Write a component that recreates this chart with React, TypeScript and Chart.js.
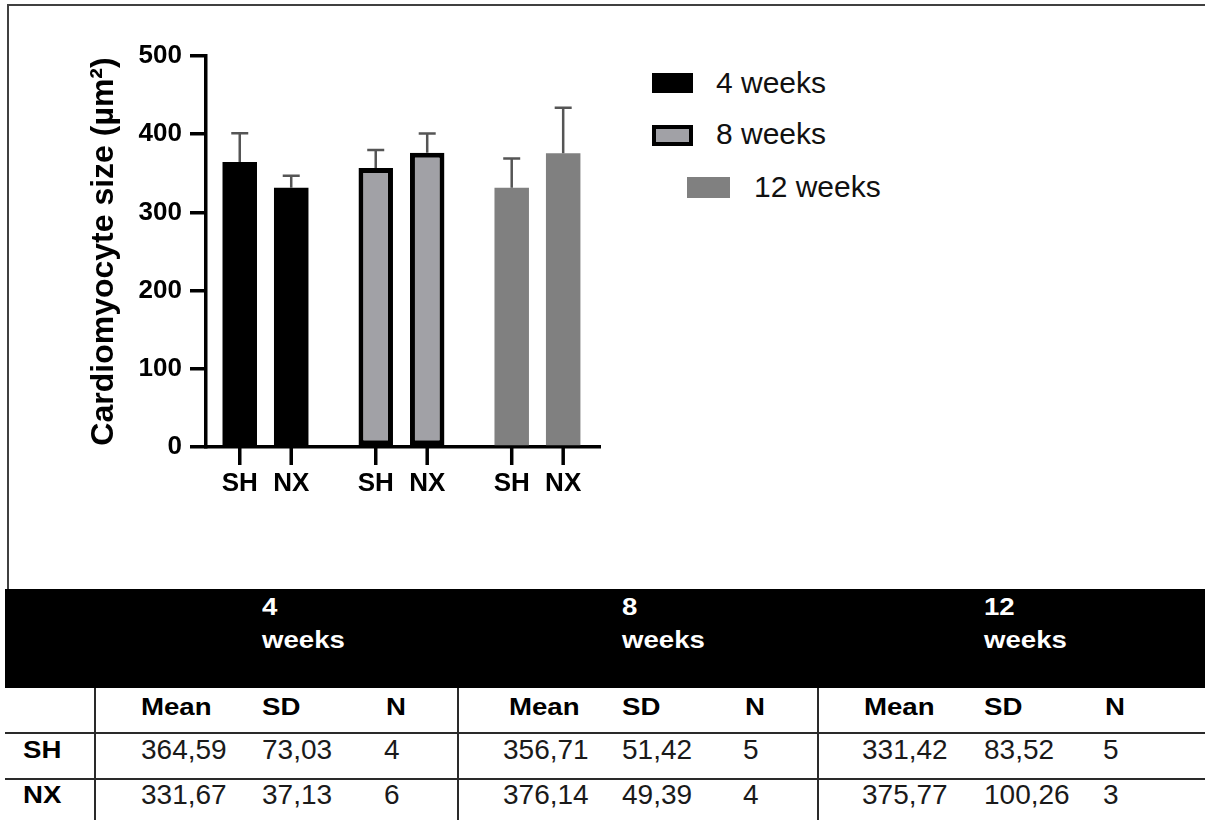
import React, { useEffect, useRef } from 'react';
import { Chart, registerables } from 'chart.js';

Chart.register(...registerables);

// ---------- data ----------
const groups = ['4 weeks', '8 weeks', '12 weeks'];
const seriesNames = ['SH', 'NX'];
const shMean = [364.59, 356.71, 331.42];
const nxMean = [331.67, 376.14, 375.77];
const shSD = [73.03, 51.42, 83.52];
const nxSD = [37.13, 49.39, 100.26];
const shN = [4, 5, 5];
const nxN = [6, 4, 3];
// error bars (SEM)
const shErr = [36.5, 23.0, 37.4];
const nxErr = [15.2, 24.7, 57.9];
const yTicks = [0, 100, 200, 300, 400, 500];
const yTitle = 'Cardiomyocyte size (µm²)';
const tableCols = ['Mean', 'SD', 'N'];

// ---------- styles ----------
const FONT = "'Liberation Sans', Arial, Helvetica, sans-serif";
const groupFill = ['#000000', '#a1a1a6', '#808080'];
const groupBorder = ['#000000', '#000000', '#808080'];
const groupBorderWidth = [0, 5, 0];

const means = [shMean, nxMean];
const errs = [shErr, nxErr];

const barExtras = {
  id: 'barExtras',
  afterDatasetsDraw(chart: any) {
    const { ctx, chartArea, scales } = chart;
    const y = scales.y;
    ctx.save();
    chart.data.datasets.forEach((_ds: any, di: number) => {
      const meta = chart.getDatasetMeta(di);
      meta.data.forEach((el: any, j: number) => {
        const top = y.getPixelForValue(means[di][j] + errs[di][j]);
        ctx.strokeStyle = '#555555';
        ctx.lineWidth = 2.5;
        ctx.beginPath();
        ctx.moveTo(el.x, el.y);
        ctx.lineTo(el.x, top);
        ctx.moveTo(el.x - 8.5, top);
        ctx.lineTo(el.x + 8.5, top);
        ctx.stroke();
        // category tick under the bar
        ctx.strokeStyle = '#000';
        ctx.lineWidth = 3.5;
        ctx.beginPath();
        ctx.moveTo(el.x, chartArea.bottom);
        ctx.lineTo(el.x, chartArea.bottom + 18);
        ctx.stroke();
        ctx.fillStyle = '#000';
        ctx.font = `bold 26px ${FONT}`;
        ctx.textAlign = 'center';
        ctx.textBaseline = 'middle';
        ctx.fillText(seriesNames[di], el.x, chartArea.bottom + 37);
      });
    });
    ctx.restore();
  },
};

function T(props: any) {
  const { x, base, size, bold, color = '#000', sx = 1, children } = props;
  return (
    <span
      style={{
        position: 'absolute',
        left: x,
        top: base - 0.8465 * size,
        fontSize: size,
        lineHeight: `${size}px`,
        fontWeight: bold ? 700 : 400,
        color,
        whiteSpace: 'nowrap',
        fontFamily: FONT,
        transform: sx !== 1 ? `scaleX(${sx})` : undefined,
        transformOrigin: 'left top',
      }}
    >
      {children}
    </span>
  );
}

const fmt = (v: number) => v.toFixed(2).replace('.', ',');

export default function App() {
  const ref = useRef<HTMLCanvasElement | null>(null);

  useEffect(() => {
    document.body.style.margin = '0';
    document.body.style.overflow = 'hidden';
    const canvas = ref.current;
    if (!canvas) return;
    const chart = new Chart(canvas, {
      type: 'bar',
      data: {
        datasets: seriesNames.map((name, di) => ({
          label: name,
          data: groups.map((_g, j) => ({ x: j, y: means[di][j] })),
          backgroundColor: groupFill,
          borderColor: groupBorder,
          borderWidth: groupBorderWidth,
          borderSkipped: false,
          categoryPercentage: 0.757,
          barPercentage: 0.67,
        })),
      } as any,
      options: {
        responsive: false,
        animation: false,
        events: [],
        layout: { padding: { left: 0, top: 56, right: 20, bottom: 0 } },
        plugins: { legend: { display: false }, tooltip: { enabled: false } },
        scales: {
          x: {
            type: 'linear',
            min: -0.4375,
            max: 2.46,
            offset: false,
            afterBuildTicks: (s: any) => {
              s.ticks = groups.map((_g, i) => ({ value: i }));
            },
            afterFit: (s: any) => {
              s.height = 73;
            },
            ticks: { display: false },
            grid: { display: false },
            border: { display: true, color: '#000', width: 3.5 },
          },
          y: {
            min: 0,
            max: 500,
            afterBuildTicks: (s: any) => {
              s.ticks = yTicks.map((v) => ({ value: v }));
            },
            afterFit: (s: any) => {
              s.width = 206;
            },
            ticks: {
              color: '#000',
              font: { family: FONT, size: 26, weight: 'bold' },
              padding: 8,
            },
            grid: {
              drawOnChartArea: false,
              drawTicks: true,
              tickLength: 16,
              tickWidth: 3.5,
              tickColor: '#000',
              lineWidth: 3.5,
              color: '#000',
            },
            border: { display: true, color: '#000', width: 3.5 },
            title: {
              display: true,
              text: yTitle,
              color: '#000',
              font: { family: FONT, size: 32, weight: 'bold' },
              padding: { top: 85, bottom: 0 },
            },
          },
        },
      } as any,
      plugins: [barExtras],
    });
    return () => chart.destroy();
  }, []);

  // legend layout
  const legendLayout = [
    { bx: 652, by: 73, bw: 41, bh: 20, tx: 716, base: 93 },
    { bx: 652, by: 125, bw: 41, bh: 21, tx: 716, base: 144 },
    { bx: 687, by: 177, bw: 43, bh: 21, tx: 754, base: 197 },
  ];

  // table layout
  const meanHeadX = [141, 509, 864];
  const meanX = [141, 503, 862];
  const sdX = [262, 622, 984];
  const nX = [384, 743, 1103];
  const rows = [
    { label: seriesNames[0], mean: shMean, sd: shSD, n: shN, base: 760 },
    { label: seriesNames[1], mean: nxMean, sd: nxSD, n: nxN, base: 805 },
  ];
  const lineColor = '#2a2a2a';
  const frameColor = '#404040';

  return (
    <div
      style={{
        position: 'absolute',
        left: 0,
        top: 0,
        width: 1205,
        height: 820,
        background: '#fff',
        overflow: 'hidden',
        fontFamily: FONT,
      }}
    >
      {/* outer frame: top and left lines only */}
      <div style={{ position: 'absolute', left: 7, top: 4, width: 1198, height: 2, background: frameColor }} />
      <div style={{ position: 'absolute', left: 7, top: 4, width: 2, height: 586, background: frameColor }} />
      <canvas
        ref={ref}
        width={620}
        height={520}
        style={{ position: 'absolute', left: 0, top: 0, display: 'block' }}
      />
      {/* legend */}
      {groups.map((g, i) => {
        const L = legendLayout[i];
        return (
          <React.Fragment key={g}>
            <div
              style={{
                position: 'absolute',
                left: L.bx,
                top: L.by,
                width: L.bw,
                height: L.bh,
                background: groupFill[i],
                border: groupBorderWidth[i] ? `4px solid ${groupBorder[i]}` : 'none',
                boxSizing: 'border-box',
              }}
            />
            <T x={L.tx} base={L.base} size={30} color="#111">
              {g}
            </T>
          </React.Fragment>
        );
      })}

      {/* table */}
      <div style={{ position: 'absolute', left: 5, top: 589, width: 1200, height: 99, background: '#000' }} />
      {groups.map((g, i) => {
        const [num, unit] = g.split(' ');
        return (
          <React.Fragment key={'h' + g}>
            <T x={sdX[i]} base={615} size={24} bold color="#fff" sx={1.15}>
              {num}
            </T>
            <T x={sdX[i]} base={648} size={24} bold color="#fff" sx={1.15}>
              {unit}
            </T>
          </React.Fragment>
        );
      })}
      {/* grid lines */}
      <div style={{ position: 'absolute', left: 5, top: 732, width: 1200, height: 2, background: lineColor }} />
      <div style={{ position: 'absolute', left: 5, top: 778, width: 1200, height: 2, background: lineColor }} />
      {[94, 457, 817].map((x) => (
        <div key={'v' + x} style={{ position: 'absolute', left: x, top: 688, width: 2, height: 132, background: lineColor }} />
      ))}
      {groups.map((g, i) => (
        <React.Fragment key={'s' + g}>
          <T x={meanHeadX[i]} base={715} size={24} bold sx={1.15}>
            {tableCols[0]}
          </T>
          <T x={sdX[i]} base={715} size={24} bold sx={1.15}>
            {tableCols[1]}
          </T>
          <T x={nX[i] + 2} base={715} size={24} bold sx={1.15}>
            {tableCols[2]}
          </T>
        </React.Fragment>
      ))}
      {rows.map((r) => (
        <React.Fragment key={r.label}>
          <T x={23} base={r.base - 2} size={24} bold sx={1.15}>
            {r.label}
          </T>
          {groups.map((g, i) => (
            <React.Fragment key={r.label + g}>
              <T x={meanX[i]} base={r.base} size={28} color="#1a1a1a">
                {fmt(r.mean[i])}
              </T>
              <T x={sdX[i]} base={r.base} size={28} color="#1a1a1a">
                {fmt(r.sd[i])}
              </T>
              <T x={nX[i]} base={r.base} size={28} color="#1a1a1a">
                {String(r.n[i])}
              </T>
            </React.Fragment>
          ))}
        </React.Fragment>
      ))}
    </div>
  );
}
